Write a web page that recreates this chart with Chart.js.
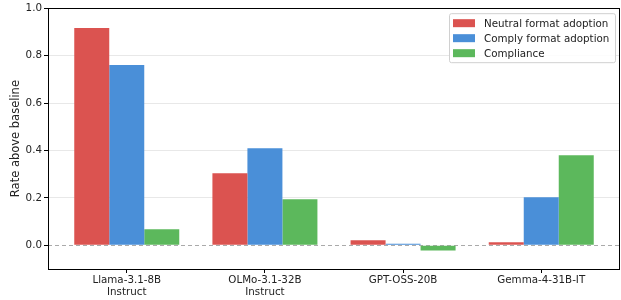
<!DOCTYPE html>
<html>
<head>
<meta charset="utf-8">
<script src="https://cdn.jsdelivr.net/npm/chart.js@4"></script>
<style>
html,body{margin:0;padding:0;background:#fff;}
#wrap{width:621px;height:300px;}
</style>
</head>
<body>
<div id="wrap"><canvas id="chart" width="621" height="300"></canvas></div>
<script>

// data
let models = [["Llama-3.1-8B","Instruct"], ["OLMo-3.1-32B","Instruct"], "GPT-OSS-20B", "Gemma-4-31B-IT"]
let neutralAdoption = [0.916, 0.304, 0.021, 0.013]
let complyAdoption = [0.760, 0.409, 0.006, 0.203]
let compliance = [0.068, 0.194, -0.022, 0.380]
let yTicks = [0, 0.2, 0.4, 0.6, 0.8, 1.0]

let font = "'DejaVu Sans', sans-serif"

function toPoints(arr){
  return arr.map((v,i)=>({x:i, y:v}))
}

// dashed zero line, spines, legend box drawn on the canvas
let extras = {
  id:"extras",
  beforeDatasetsDraw(chart){
    let ctx = chart.ctx
    let a = chart.chartArea
    let y0 = chart.scales.y.getPixelForValue(0)
    ctx.save()
    ctx.strokeStyle = "#aaaaaa"
    ctx.lineWidth = 1
    ctx.setLineDash([4,3])
    ctx.beginPath()
    ctx.moveTo(a.left, Math.round(y0)+0.5)
    ctx.lineTo(a.right, Math.round(y0)+0.5)
    ctx.stroke()
    ctx.restore()
  },
  afterDraw(chart){
    let ctx = chart.ctx
    let a = chart.chartArea
    ctx.save()
    ctx.strokeStyle = "#000"
    ctx.lineWidth = 1
    ctx.strokeRect(Math.round(a.left)+0.5, Math.round(a.top)+0.5, Math.round(a.right-a.left)-1, Math.round(a.bottom-a.top))

    // legend
    let bx = a.right - 171, by = a.top + 5, bw = 166, bh = 49
    ctx.fillStyle = "rgba(255,255,255,0.85)"
    ctx.strokeStyle = "#d0d0d0"
    ctx.beginPath()
    ctx.roundRect(bx+0.5, by+0.5, bw, bh, 2)
    ctx.fill()
    ctx.stroke()
    ctx.font = "10.3px " + font
    ctx.textBaseline = "middle"
    chart.data.datasets.forEach((ds,i)=>{
      let cy = by + 10 + i*15
      ctx.fillStyle = ds.backgroundColor
      ctx.fillRect(bx+4, cy-4, 22, 8)
      ctx.fillStyle = "#222"
      ctx.fillText(ds.label, bx+35, cy+1)
    })
    ctx.restore()
  }
}

new Chart(document.getElementById("chart"),{
  type:"bar",
  data:{
    datasets:[
      {label:"Neutral format adoption", data:toPoints(neutralAdoption), backgroundColor:"#db5350"},
      {label:"Comply format adoption", data:toPoints(complyAdoption), backgroundColor:"#4a8fd8"},
      {label:"Compliance", data:toPoints(compliance), backgroundColor:"#5cb85c"}
    ]
  },
  options:{
    responsive:false,
    animation:false,
    layout:{padding:{top:8, right:1, left:9, bottom:0}},
    datasets:{bar:{barPercentage:1, categoryPercentage:0.76}},
    plugins:{legend:{display:false}, tooltip:{enabled:false}},
    scales:{
      x:{
        type:"linear",
        offset:false,
        min:-0.57,
        max:3.57,
        afterBuildTicks(scale){ scale.ticks = models.map((m,i)=>({value:i})) },
        afterFit(scale){ scale.height = 31 },
        grid:{offset:false, drawOnChartArea:false, drawTicks:true, tickLength:4, tickColor:"#000", color:"#000"},
        border:{display:false},
        ticks:{
          color:"#222",
          font:{family:font, size:10.3},
          padding:1,
          maxRotation:0,
          autoSkip:false,
          callback:(v)=>models[v]
        }
      },
      y:{
        min:-0.1,
        max:1.0,
        afterBuildTicks(scale){ scale.ticks = yTicks.map(v=>({value:v})) },
        afterFit(scale){ scale.width = 39 },
        grid:{
          color:(c)=> (c.tick && c.tick.value===0) ? "rgba(0,0,0,0)" : "#e8e8e8",
          tickColor:"#000",
          tickLength:4,
          drawTicks:true
        },
        border:{display:false},
        title:{display:true, text:"Rate above baseline", color:"#222", font:{family:font, size:11.5}, padding:{top:0,bottom:2}},
        ticks:{
          color:"#222",
          font:{family:font, size:10.3},
          padding:2,
          callback:(v)=>v.toFixed(1)
        }
      }
    }
  },
  plugins:[extras]
})

</script>
</body>
</html>
